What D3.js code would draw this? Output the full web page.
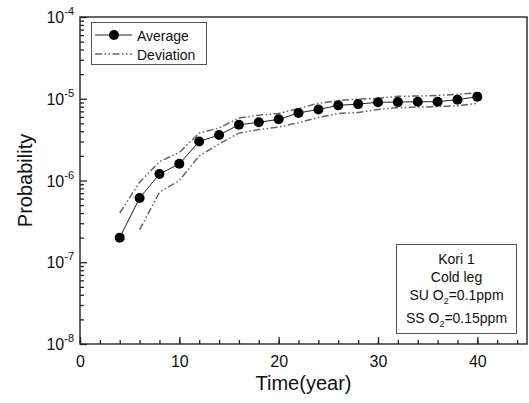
<!DOCTYPE html>
<html>
<head>
<meta charset="utf-8">
<script src="https://cdn.jsdelivr.net/npm/d3@7"></script>
<style>
  body { margin: 0; background: #fff; }
  text { font-family: Arial, "Liberation Sans", sans-serif; fill: #111; }
</style>
</head>
<body>
<svg id="chart" width="529" height="403"></svg>
<script>
// données
const years = [4, 6, 8, 10, 12, 14, 16, 18, 20, 22, 24, 26, 28, 30, 32, 34, 36, 38, 40];
const average = [2.0e-7, 6.1e-7, 1.2e-6, 1.6e-6, 3.0e-6, 3.6e-6, 4.8e-6, 5.15e-6, 5.6e-6, 6.7e-6, 7.4e-6, 8.3e-6, 8.6e-6, 9.05e-6, 9.1e-6, 9.2e-6, 9.2e-6, 9.75e-6, 1.06e-5];
const upper = [4.0e-7, 9.5e-7, 1.7e-6, 2.2e-6, 3.8e-6, 4.4e-6, 5.8e-6, 6.3e-6, 6.6e-6, 7.6e-6, 8.8e-6, 9.5e-6, 9.9e-6, 1.01e-5, 1.07e-5, 1.08e-5, 1.1e-5, 1.13e-5, 1.19e-5];
const lowerYears = [6, 8, 10, 12, 14, 16, 18, 20, 22, 24, 26, 28, 30, 32, 34, 36, 38, 40];
const lower = [2.5e-7, 7.2e-7, 1.0e-6, 2.0e-6, 2.8e-6, 3.8e-6, 4.2e-6, 4.5e-6, 5.1e-6, 5.9e-6, 6.6e-6, 6.8e-6, 7.4e-6, 7.8e-6, 7.9e-6, 8.0e-6, 8.2e-6, 8.8e-6];
const xTicks = [0, 10, 20, 30, 40];
const yExponents = [-4, -5, -6, -7, -8];
const noteLines = ["Kori 1", "Cold leg"];

const svg = d3.select("#chart");
const m = { left: 80, right: 527, top: 17, bottom: 344 };

const x = d3.scaleLinear().domain([0, 45]).range([m.left, m.right]);
const y = d3.scaleLog().domain([1e-8, 1e-4]).range([m.bottom, m.top]);

// cadre
svg.append("rect")
  .attr("x", m.left).attr("y", m.top)
  .attr("width", m.right - m.left).attr("height", m.bottom - m.top)
  .attr("fill", "none").attr("stroke", "#333").attr("stroke-width", 1.5);

// axe X : graduations vers l'intérieur
const gx = svg.append("g").attr("transform", `translate(0,${m.bottom})`);
gx.call(d3.axisBottom(x).tickValues(d3.range(0, 46, 2)).tickSize(-4).tickFormat(""))
  .call(g => g.select(".domain").remove());
gx.call(g => g.selectAll(".tick line").attr("stroke", "#222").attr("stroke-width", 1.3));
const gxMaj = svg.append("g").attr("transform", `translate(0,${m.bottom})`);
gxMaj.call(d3.axisBottom(x).tickValues(xTicks).tickSize(-7).tickPadding(12).tickFormat(d3.format("d")))
  .call(g => g.select(".domain").remove());
gxMaj.selectAll(".tick line").attr("stroke", "#222").attr("stroke-width", 1.3);
gxMaj.selectAll(".tick text").attr("font-size", 16).attr("font-family", "Arial, 'Liberation Sans', sans-serif").attr("fill", "#111");

// axe Y : log
const minorY = [];
for (let e = -8; e < -4; e++) for (let k = 2; k <= 9; k++) minorY.push(k * Math.pow(10, e));
const gy = svg.append("g").attr("transform", `translate(${m.left},0)`);
gy.call(d3.axisLeft(y).tickValues(minorY).tickSize(-4).tickFormat(""))
  .call(g => g.select(".domain").remove());
gy.selectAll(".tick line").attr("stroke", "#222").attr("stroke-width", 1.3);
const gyMaj = svg.append("g").attr("transform", `translate(${m.left},0)`);
gyMaj.call(d3.axisLeft(y).tickValues(yExponents.map(e => Math.pow(10, e))).tickSize(-7).tickFormat(""))
  .call(g => g.select(".domain").remove());
gyMaj.selectAll(".tick line").attr("stroke", "#222").attr("stroke-width", 1.3);

// étiquettes 10^n
yExponents.forEach(e => {
  const t = svg.append("text")
    .attr("x", 74).attr("y", y(Math.pow(10, e)) + 6)
    .attr("text-anchor", "end").attr("font-size", 16);
  t.append("tspan").text("10");
  t.append("tspan").attr("dy", -8).attr("font-size", 11).text(e);
});

// titres des axes
svg.append("text")
  .attr("x", x(22.5)).attr("y", 390)
  .attr("text-anchor", "middle").attr("font-size", 20)
  .text("Time(year)");
svg.append("text")
  .attr("transform", `translate(32,${(m.top + m.bottom) / 2}) rotate(-90)`)
  .attr("text-anchor", "middle").attr("font-size", 20)
  .text("Probability");

// courbes
const dash = "7,2.5,1.5,2.5,1.5,2.5";
const line = d3.line().x(d => x(d[0])).y(d => y(d[1]));

svg.append("path")
  .datum(d3.zip(years, upper))
  .attr("d", line)
  .attr("fill", "none").attr("stroke", "#666").attr("stroke-width", 1.5)
  .attr("stroke-dasharray", dash);
svg.append("path")
  .datum(d3.zip(lowerYears, lower))
  .attr("d", line)
  .attr("fill", "none").attr("stroke", "#666").attr("stroke-width", 1.5)
  .attr("stroke-dasharray", dash);
svg.append("path")
  .datum(d3.zip(years, average))
  .attr("d", line)
  .attr("fill", "none").attr("stroke", "#222").attr("stroke-width", 1);
svg.selectAll("circle.pt")
  .data(d3.zip(years, average))
  .enter()
  .append("circle")
  .attr("class", "pt")
  .attr("cx", d => x(d[0])).attr("cy", d => y(d[1]))
  .attr("r", 5).attr("fill", "#000");

// légende
const lg = svg.append("g");
lg.append("rect").attr("x", 91.5).attr("y", 22.5).attr("width", 115).attr("height", 42)
  .attr("fill", "#fff").attr("stroke", "#555").attr("stroke-width", 1);
lg.append("line").attr("x1", 95).attr("x2", 132).attr("y1", 35).attr("y2", 35)
  .attr("stroke", "#222").attr("stroke-width", 1);
lg.append("circle").attr("cx", 114).attr("cy", 35).attr("r", 5).attr("fill", "#000");
lg.append("text").attr("x", 137).attr("y", 40.5).attr("font-size", 14).text("Average");
lg.append("line").attr("x1", 95).attr("x2", 132).attr("y1", 54).attr("y2", 54)
  .attr("stroke", "#666").attr("stroke-width", 1.5).attr("stroke-dasharray", dash);
lg.append("text").attr("x", 137).attr("y", 59.5).attr("font-size", 14).text("Deviation");

// boîte d'annotation
const nx = 456.5;
svg.append("rect").attr("x", 396.5).attr("y", 244.5).attr("width", 120).attr("height", 89)
  .attr("fill", "#fff").attr("stroke", "#555").attr("stroke-width", 1);
noteLines.forEach((s, i) => {
  svg.append("text").attr("x", nx).attr("y", 264 + i * 18)
    .attr("text-anchor", "middle").attr("font-size", 14).text(s);
});
[["SU O", "=0.1ppm", 300], ["SS O", "=0.15ppm", 323]].forEach(d => {
  const t = svg.append("text").attr("x", nx).attr("y", d[2])
    .attr("text-anchor", "middle").attr("font-size", 14);
  t.append("tspan").text(d[0]);
  t.append("tspan").attr("dy", 4).attr("font-size", 9).text("2");
  t.append("tspan").attr("dy", -4).text(d[1]);
});
</script>
</body>
</html>
